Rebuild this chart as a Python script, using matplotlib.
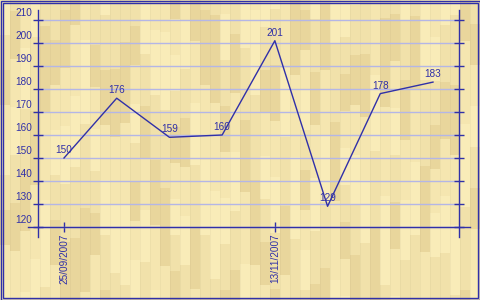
import numpy as np
import matplotlib
matplotlib.use("Agg")
import matplotlib.pyplot as plt
from matplotlib.patches import Rectangle
from matplotlib.transforms import ScaledTranslation

# ---- data ----
values = [150, 176, 159, 160, 201, 129, 178, 183]
tick_positions = [0, 4]
tick_labels = ["25/09/2007", "13/11/2007"]
y_ticks = [120, 130, 140, 150, 160, 170, 180, 190, 200, 210]

BLUE = "#3030A8"
GRID = "#B4B6E6"
FONT = "Liberation Sans"
FS = 7.2

W, H = 480, 300
fig = plt.figure(figsize=(4.8, 3.0), dpi=100)

# ---- wood-like background (decorative) ----
shades = np.array([[249, 236, 184], [241, 225, 170], [233, 214, 156], [245, 230, 176]]) / 255.0
img = np.zeros((H, W, 3))
colw = 10
for c in range(W // colw + 1):
    seg = 35 + (c * 13) % 55
    for y in range(H):
        k = (c * 5 + (y + c * 37) // seg) % 4
        img[y, c * colw:(c + 1) * colw] = shades[k]
    # thin plank seam
    if c * colw < W:
        img[:, c * colw] = img[:, c * colw] * 0.97

bg = fig.add_axes([0, 0, 1, 1])
bg.imshow(img, extent=[0, W, H, 0], aspect="auto", interpolation="nearest")
bg.set_xlim(0, W)
bg.set_ylim(H, 0)
bg.axis("off")
bg.add_patch(Rectangle((0.5, 0.5), 479, 299, fill=False, ec=BLUE, lw=1))
bg.add_patch(Rectangle((2.5, 2.5), 475, 295, fill=False, ec=BLUE, lw=1))

# ---- main axes ----
L, R, T, B = 38, 459, 10, 237
ax = fig.add_axes([L / W, 1 - B / H, (R - L) / W, (B - T) / H])
ax.patch.set_alpha(0)
ppu = 2.3  # px per value unit
ax.set_ylim(120 - (B - 227) / ppu, 210 + (20 - T) / ppu)
step = (433 - 64) / 7
ax.set_xlim(-(64 - L) / step, 7 + (R - 433) / step)

for s in ["top", "bottom"]:
    ax.spines[s].set_visible(False)
for s in ["left", "right"]:
    ax.spines[s].set_color(BLUE)
    ax.spines[s].set_linewidth(1)
ax.spines["bottom"].set_position(("data", 120))

ax.set_yticks(y_ticks)
ax.set_yticklabels([str(v) for v in y_ticks])
ax.set_axisbelow(True)
ax.grid(axis="y", color=GRID, lw=1)
ax.tick_params(axis="y", which="both", direction="inout", length=6.5, width=1,
               color=BLUE, left=True, right=True, labelleft=True, labelright=False,
               labelcolor=BLUE, labelsize=FS, pad=1.2)
off = ScaledTranslation(0, 8 / 100, fig.dpi_scale_trans)
for lab in ax.get_yticklabels():
    lab.set_transform(lab.get_transform() + off)
    lab.set_fontfamily(FONT)

ax.set_xticks(tick_positions)
ax.set_xticklabels(tick_labels, rotation=90, fontfamily=FONT, color=BLUE, fontsize=FS)
ax.tick_params(axis="x", direction="inout", length=7.9, width=1, color=BLUE, pad=0.6)

# extended x axis line
ax.axhline(120, xmin=(28 - L) / (R - L), xmax=(470 - L) / (R - L), color=BLUE,
           lw=1, clip_on=False, zorder=3)

x = np.arange(len(values))
ax.plot(x, values, color=BLUE, lw=1, zorder=4)
for xi, v in zip(x, values):
    ax.annotate(str(v), (xi, v), xytext=(0, 3.6), textcoords="offset points",
                ha="center", va="baseline", color=BLUE, fontsize=FS,
                fontfamily=FONT, zorder=5)

fig.savefig("out.png", dpi=100)
